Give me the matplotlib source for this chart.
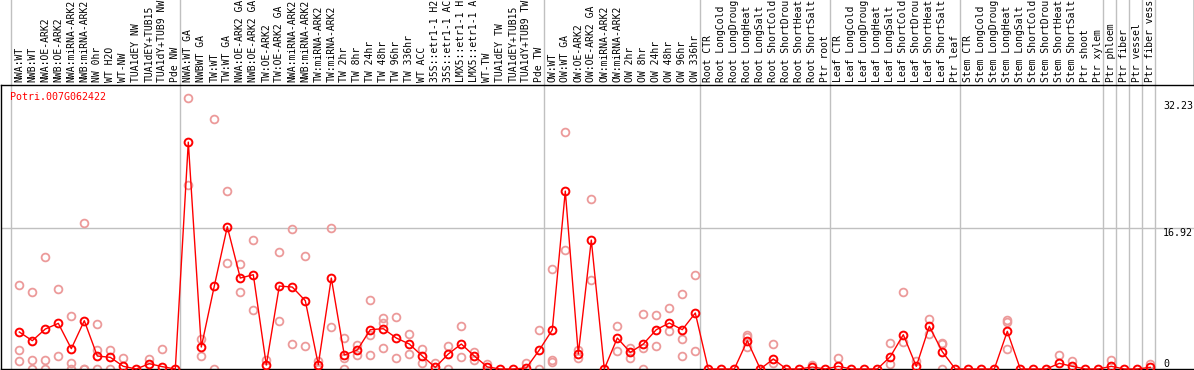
import numpy as np
import matplotlib
matplotlib.use('Agg')
import matplotlib.pyplot as plt
import matplotlib.transforms as mtrans

gene = 'Potri.007G062422'

labels = ['NWA:WT', 'NWB:WT', 'NWA:OE-ARK2', 'NWB:OE-ARK2', 'NWA:miRNA-ARK2', 'NWB:miRNA-ARK2',
          'NW 0hr', 'WT H2O', 'WT-NW', 'TUA1dEY NW', 'TUA1dEY+TUB15', 'TUA1dY+TUB9 NW', 'Pde NW',
          'NWA:WT GA', 'NWBWT GA', 'TW:WT', 'TW:WT GA', 'NWA:OE-ARK2 GA', 'NWB:OE-ARK2 GA',
          'TW:OE-ARK2', 'TW:OE-ARK2 GA', 'NWA:miRNA-ARK2', 'NWB:miRNA-ARK2', 'TW:miRNA-ARK2',
          'TW:miRNA-ARK2', 'TW 2hr', 'TW 8hr', 'TW 24hr', 'TW 48hr', 'TW 96hr', 'TW 336hr', 'WT ACC',
          '35S::etr1-1 H2', '35S::etr1-1 AC', 'LMX5::etr1-1 H', 'LMX5::etr1-1 A', 'WT-TW',
          'TUA1dEY TW', 'TUA1dEY+TUB15', 'TUA1dY+TUB9 TW', 'Pde TW',
          'OW:WT', 'OW:WT GA', 'OW:OE-ARK2', 'OW:OE-ARK2 GA', 'OW:miRNA-ARK2', 'OW:miRNA-ARK2',
          'OW 2hr', 'OW 8hr', 'OW 24hr', 'OW 48hr', 'OW 96hr', 'OW 336hr',
          'Root CTR', 'Root LongCold', 'Root LongDroug', 'Root LongHeat', 'Root LongSalt',
          'Root ShortCold', 'Root ShortDrou', 'Root ShortHeat', 'Root ShortSalt', 'Ptr root',
          'Leaf CTR', 'Leaf LongCold', 'Leaf LongDroug', 'Leaf LongHeat', 'Leaf LongSalt',
          'Leaf ShortCold', 'Leaf ShortDrou', 'Leaf ShortHeat', 'Leaf ShortSalt', 'Ptr leaf',
          'Stem CTR', 'Stem LongCold', 'Stem LongDroug', 'Stem LongHeat', 'Stem LongSalt',
          'Stem ShortCold', 'Stem ShortDrou', 'Stem ShortHeat', 'Stem ShortSalt', 'Ptr shoot',
          'Ptr xylem', 'Ptr phloem', 'Ptr fiber', 'Ptr vessel', 'Ptr fiber vess']

means = [4.44, 3.4, 4.8, 5.48, 2.44, 5.8, 1.56, 1.4, 0.32, 0, 0.64, 0.28, 0,
         27.24, 2.64, 9.96, 17.08, 10.92, 11.32, 0.48, 9.96, 9.84, 8.2, 0.52, 10.92,
         1.68, 2.28, 4.72, 4.84, 3.72, 3.0, 1.56, 0.2, 1.8, 3.0, 1.56, 0.25, 0, 0, 0.12, 2.28,
         4.7, 21.36, 1.8, 15.48, 0, 3.72, 2.0, 3.0, 4.72, 5.52, 4.72, 6.72,
         0, 0, 0, 3.4, 0, 1.2, 0, 0, 0.24, 0,
         0.32, 0, 0, 0, 1.48, 4.12, 0.32, 5.12, 2.08, 0,
         0, 0, 0, 4.52, 0, 0, 0, 0.68, 0.32, 0,
         0, 0.32, 0, 0, 0.2]

reps = [[10.08, 2.28, 0.96], [9.28, 1.08, 0], [13.44, 1.08, 0], [9.6, 1.56], [6.36, 0.72, 0],
        [17.52, 0, 0], [5.4, 2.28, 0], [2.28, 0], [1.32], [], [1.2], [2.44], [],
        [32.52, 22.08], [3.64, 1.56], [30.0, 0], [21.36, 12.76], [12.6, 9.28], [15.48, 7.12],
        [1.12], [14.04, 5.8], [16.8, 3.0], [13.56, 2.76], [0.92, 0], [16.92, 5.04],
        [3.72, 1.32, 0], [2.92, 1.68], [8.28, 4.12, 1.68], [6.12, 5.52, 2.52], [6.24, 1.32],
        [4.2, 1.8], [2.44, 0.72], [0.68], [2.8, 0], [5.16, 1.44], [2.0, 1.12], [0.6], [], [],
        [0.68], [4.72, 0],
        [12.0, 1.12, 0.8], [28.44, 14.28], [2.32, 1.32], [20.4, 10.68], [], [5.16, 2.2],
        [2.52, 1.32], [6.6, 2.48, 0], [6.48, 2.76], [7.32, 4.6], [9.04, 3.6, 1.56], [11.28, 2.16],
        [], [], [], [4.04, 3.84, 2.64], [], [3.0, 0.72], [], [], [0.52], [],
        [1.36], [], [], [], [3.12, 0.6], [9.24, 3.24], [0.92], [6.0, 4.24], [3.12, 3.0, 0], [],
        [], [], [], [5.92, 5.64, 2.4], [], [], [], [1.68], [1.0], [],
        [], [1.08], [], [], [0.6]]

# first sample of each group (grey separators)
group_starts = [0, 13, 41, 53, 63, 73, 84, 85, 86, 87, 88]
ytick_vals = [32.23, 16.92, 0]

W, H = 1194, 370
fig = plt.figure(figsize=(W / 100, H / 100), dpi=100)
ax = fig.add_axes([1 / W, 1 / H, 1193 / W, 284 / H])

x = np.arange(len(means))
ax.set_xlim((1 - 19.3) / 13, (W - 19.3) / 13)
ax.set_ylim(0, 34.1)

grey = '#c0c0c0'
for k in group_starts:
    ax.axvline(k - 0.64, ymin=0, ymax=1 + 85 / 284, color=grey, lw=1, clip_on=False, zorder=1)
ax.axhline(16.92, color=grey, lw=1, zorder=1)

rx = [i for i, r in enumerate(reps) for v in r]
ry = [v for r in reps for v in r]
ax.plot(rx, ry, 'o', ms=5.6, mfc='none', mec='#ec9a9a', mew=1.3, zorder=2, clip_on=False)
ax.plot(x, means, '-', color='red', lw=1, zorder=3, clip_on=False)
ax.plot(x, means, 'o', ms=5.6, mfc='none', mec='red', mew=1.4, zorder=4, clip_on=False)

for s in ['left', 'bottom', 'top']:
    ax.spines[s].set_color('black')
    ax.spines[s].set_linewidth(1)
ax.spines['right'].set_visible(False)
ax.set_xticks([])
ax.set_yticks([])

mono = 'DejaVu Sans Mono'
lab_tr = mtrans.blended_transform_factory(ax.transData, ax.transAxes)
for i, lab in enumerate(labels):
    ax.text(i, 1 + 2.5 / 284, lab, transform=lab_tr, rotation=90, ha='center', va='bottom',
            fontsize=7, family=mono, clip_on=False)

ax.text(9 / 1193, 1 - 12 / 284, gene, transform=ax.transAxes, color='red', fontsize=7.2,
        family=mono, va='center', ha='left')

for v in ytick_vals:
    ax.text(1162 / 1193, v, '%g' % v if v == 0 else '%.2f' % v,
            transform=mtrans.blended_transform_factory(ax.transAxes, ax.transData),
            fontsize=7.2, family=mono, ha='left', va='bottom' if v == 0 else 'top')

fig.add_artist(plt.Line2D([1193.5 / W, 1193.5 / W], [(H - 85) / H, 1], color='black', lw=1))

fig.savefig('out.png', dpi=100)
